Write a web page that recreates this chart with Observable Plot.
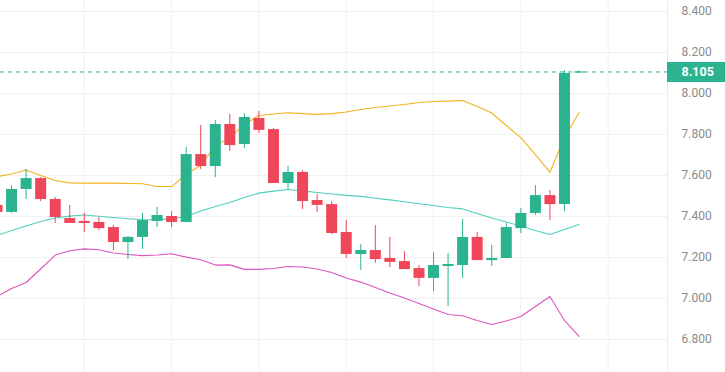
<!DOCTYPE html>
<html><head><meta charset="utf-8">
<script src="https://cdn.jsdelivr.net/npm/d3@7"></script>
<script src="https://cdn.jsdelivr.net/npm/@observablehq/plot@0.6"></script>
<style>html,body{margin:0;padding:0;background:#fff;overflow:hidden}svg{display:block}</style>
</head><body><div id="chart"></div>
<script>
// OHLC per candle (index 1..41)
const opens  = [7.454,7.420,7.532,7.585,7.483,7.390,7.376,7.371,7.346,7.273,7.298,7.376,7.400,7.371,7.702,7.644,7.849,7.751,7.878,7.824,7.561,7.615,7.478,7.458,7.322,7.215,7.234,7.195,7.180,7.146,7.098,7.156,7.161,7.298,7.185,7.195,7.341,7.415,7.502,7.458,8.100];
const highs  = [7.460,7.551,7.629,7.590,7.493,7.454,7.415,7.395,7.356,7.302,7.415,7.444,7.425,7.737,7.844,7.868,7.898,7.902,7.912,7.829,7.644,7.624,7.507,7.473,7.380,7.263,7.356,7.298,7.229,7.161,7.224,7.219,7.385,7.322,7.259,7.366,7.439,7.551,7.527,8.112,8.110];
const lows   = [7.410,7.415,7.483,7.473,7.366,7.366,7.322,7.332,7.234,7.190,7.239,7.346,7.346,7.371,7.629,7.590,7.717,7.732,7.805,7.561,7.532,7.434,7.420,7.312,7.195,7.137,7.171,7.151,7.141,7.058,7.034,6.961,7.098,7.185,7.156,7.195,7.317,7.405,7.380,7.424,8.098];
const closes = [7.420,7.532,7.585,7.483,7.395,7.366,7.366,7.341,7.273,7.298,7.380,7.405,7.371,7.702,7.644,7.849,7.746,7.883,7.820,7.561,7.615,7.473,7.454,7.317,7.215,7.234,7.190,7.176,7.141,7.098,7.161,7.166,7.298,7.185,7.195,7.346,7.415,7.502,7.458,8.098,8.105];
// Bollinger bands
const upperBand  = [7.594,7.607,7.627,7.600,7.576,7.564,7.563,7.563,7.563,7.561,7.560,7.546,7.546,7.605,7.649,7.746,7.785,7.849,7.893,7.900,7.906,7.902,7.898,7.902,7.910,7.922,7.932,7.939,7.946,7.956,7.961,7.963,7.966,7.937,7.905,7.844,7.785,7.702,7.616,7.785,7.907];
const middleBand = [7.307,7.332,7.354,7.376,7.393,7.402,7.407,7.401,7.395,7.389,7.384,7.385,7.388,7.400,7.427,7.449,7.468,7.493,7.514,7.524,7.532,7.525,7.517,7.510,7.503,7.498,7.489,7.481,7.472,7.462,7.454,7.444,7.437,7.415,7.393,7.373,7.354,7.332,7.312,7.337,7.361];
const lowerBand  = [7.010,7.049,7.078,7.144,7.212,7.233,7.242,7.238,7.222,7.215,7.209,7.212,7.218,7.202,7.189,7.163,7.164,7.142,7.142,7.146,7.156,7.154,7.144,7.127,7.100,7.080,7.054,7.027,7.002,6.976,6.949,6.922,6.916,6.893,6.873,6.890,6.912,6.961,7.010,6.893,6.815];
const yTicks = [6.6,6.8,7.0,7.2,7.4,7.6,7.8,8.0,8.2,8.4];
const gridCandles = [7,13,19,25,31,37,43];
const lastPrice = 8.105;

const green = "#2ab38e", red = "#f0465a";
const candles = opens.map((o,i)=>({k:i+1, open:o, high:highs[i], low:lows[i], close:closes[i], color: closes[i]>=o ? green : red}));
const bands = upperBand.map((u,i)=>({k:i+1, upper:u, middle:middleBand[i], lower:lowerBand[i]}));
const xDomain = [1.24, 47.08];
const fmt = d3.format(".3f");

const chart = Plot.plot({
  width:725, height:372, marginTop:0, marginBottom:0, marginLeft:0, marginRight:58,
  x:{domain:xDomain, axis:null},
  y:{domain:[6.639, 8.4537], axis:null},
  style:{fontFamily:"Roboto, Arial, sans-serif", fontSize:"12px", background:"#fff"},
  marks:[
    Plot.ruleY(yTicks, {stroke:"#f1f1f1"}),
    Plot.ruleX(gridCandles, {stroke:"#f1f1f1"}),
    Plot.frame({anchor:"right", stroke:"#ececec"}),
    Plot.lineY(bands, {x:"k", y:"upper", stroke:"#f3b21f", strokeWidth:1.1, clip:true}),
    Plot.lineY(bands, {x:"k", y:"middle", stroke:"#4fd0bd", strokeWidth:1.1, clip:true}),
    Plot.lineY(bands, {x:"k", y:"lower", stroke:"#dd55bd", strokeWidth:1.1, clip:true}),
    Plot.ruleX(candles, {x:"k", y1:"low", y2:"high", stroke:"color", strokeWidth:1, clip:true}),
    Plot.ruleX(candles, {x:"k", y1:"open", y2:"close", stroke:"color", strokeWidth:11, clip:true}),
    Plot.ruleY([lastPrice], {stroke:green, strokeDasharray:"4,4", strokeWidth:1}),
    Plot.axisY(yTicks.filter(t=>t>6.65), {anchor:"right", tickSize:0, tickPadding:14, tickFormat:fmt, fill:"#8a8a8a", fontSize:12}),
    Plot.ruleY([lastPrice], {x1:()=>xDomain[1], x2:()=>xDomain[1]+4.2, stroke:green, strokeWidth:20}),
    Plot.text([lastPrice], {x:()=>xDomain[1], y:d=>d, text:d=>fmt(d), dx:14, textAnchor:"start", fill:"#fff", fontWeight:"bold", fontSize:12.5})
  ]
});
document.getElementById("chart").appendChild(chart);
</script>
</body></html>
